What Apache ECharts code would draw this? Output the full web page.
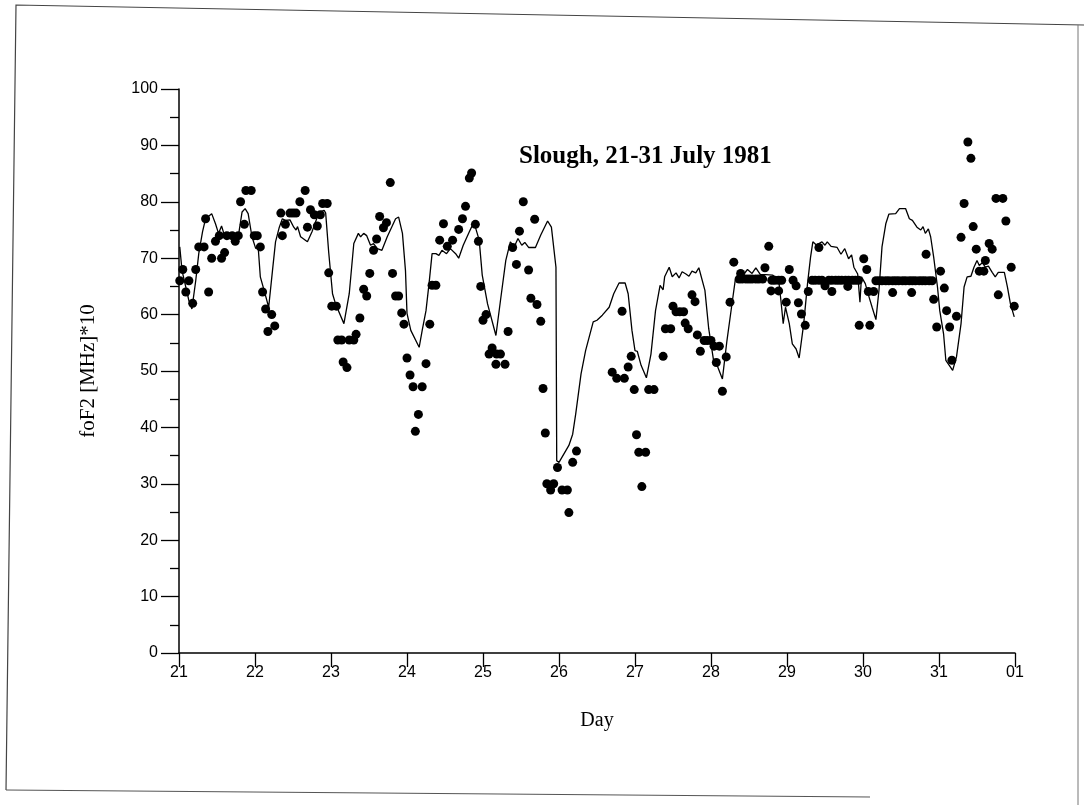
<!DOCTYPE html>
<html>
<head>
<meta charset="utf-8">
<script src="https://cdn.jsdelivr.net/npm/echarts@6/dist/echarts.min.js"></script>
<style>
  html, body { margin: 0; padding: 0; background: #fff; }
  #chart { width: 1084px; height: 805px; }
</style>
</head>
<body>
<div id="chart"></div>
<script>
var obsDay = [
  21.01, 21.05, 21.09, 21.13, 21.18, 21.22, 21.26, 21.33, 21.35, 21.39, 21.43, 21.48, 21.53, 21.56, 21.60, 21.63,
  21.70, 21.74, 21.78, 21.81, 21.86, 21.88, 21.95, 21.99, 22.03, 22.07, 22.10, 22.14, 22.17, 22.22, 22.26, 22.34,
  22.36, 22.40, 22.46, 22.50, 22.54, 22.59, 22.66, 22.69, 22.73, 22.78, 22.82, 22.86, 22.89, 22.95, 22.97, 23.01,
  23.07, 23.09, 23.14, 23.16, 23.21, 23.24, 23.30, 23.33, 23.38, 23.43, 23.47, 23.51, 23.56, 23.60, 23.64, 23.69,
  23.73, 23.78, 23.81, 23.85, 23.89, 23.93, 23.96, 24.00, 24.04, 24.08, 24.11, 24.15, 24.20, 24.25, 24.30, 24.33,
  24.38, 24.43, 24.48, 24.53, 24.60, 24.68, 24.73, 24.77, 24.82, 24.85, 24.90, 24.94, 24.97, 25.00, 25.04, 25.08,
  25.12, 25.17, 25.18, 25.23, 25.29, 25.33, 25.39, 25.44, 25.48, 25.53, 25.60, 25.63, 25.68, 25.71, 25.76, 25.79,
  25.82, 25.84, 25.89, 25.93, 25.98, 26.04, 26.11, 26.13, 26.18, 26.23,
  26.70, 26.76, 26.83, 26.86, 26.91, 26.95, 26.99, 27.02, 27.05, 27.09, 27.14, 27.18, 27.25, 27.37, 27.40, 27.47,
  27.50, 27.54, 27.59, 27.64, 27.66, 27.70, 27.75, 27.79, 27.82, 27.86, 27.91, 27.95, 28.00, 28.04, 28.07, 28.11,
  28.15, 28.20, 28.25, 28.30, 28.37, 28.39, 28.41, 28.46, 28.50, 28.54, 28.59, 28.63, 28.68, 28.71, 28.76, 28.79,
  28.80, 28.84, 28.89, 28.89, 28.93, 28.99, 29.03, 29.08, 29.12, 29.15, 29.19, 29.24, 29.28, 29.33, 29.37, 29.42,
  29.42, 29.46, 29.50, 29.55, 29.59, 29.59, 29.64, 29.68, 29.72, 29.77, 29.80, 29.81, 29.86, 29.90, 29.94, 29.95,
  30.01, 30.05, 30.07, 30.09, 30.14, 30.17, 30.21, 30.25, 30.30, 30.34, 30.39, 30.39, 30.43, 30.47, 30.52, 30.56,
  30.61, 30.64, 30.65, 30.69, 30.74, 30.78, 30.82, 30.83, 30.87, 30.91, 30.93, 30.97, 31.02, 31.07, 31.10, 31.14,
  31.17, 31.23, 31.29, 31.33, 31.38, 31.42, 31.45, 31.49, 31.53, 31.59, 31.61, 31.66, 31.70, 31.75, 31.78, 31.84,
  31.88, 31.95, 31.99
];
var obsVal = [
  66, 68, 64, 66, 62, 68, 72, 72, 77, 64, 70, 73, 74, 70, 71, 74,
  74, 73, 74, 80, 76, 82, 82, 74, 74, 72, 64, 61, 57, 60, 58, 78,
  74, 76, 78, 78, 78, 80, 82, 75.5, 78.6, 77.7, 75.7, 77.7, 79.7, 79.7, 67.4, 61.5,
  61.5, 55.5, 55.5, 51.6, 50.6, 55.5, 55.5, 56.5, 59.4, 64.5, 63.3, 67.3, 71.4, 73.4, 77.4, 75.4,
  76.3, 83.4, 67.3, 63.3, 63.3, 60.3, 58.3, 52.3, 49.3, 47.2, 39.3, 42.3, 47.2, 51.3, 58.3, 65.2,
  65.2, 73.2, 76.1, 72.1, 73.2, 75.1, 77, 79.2, 84.2, 85.1, 76, 73, 65, 59, 60, 53,
  54.1, 51.2, 53, 53, 51.2, 57, 71.9, 68.9, 74.8, 80, 67.9, 62.9, 76.9, 61.8, 58.8, 46.9,
  39, 30, 28.9, 30, 32.9, 28.9, 28.9, 24.9, 33.8, 35.8,
  49.8, 48.7, 60.6, 48.7, 50.7, 52.6, 46.7, 38.7, 35.6, 29.5, 35.6, 46.7, 46.7, 52.6, 57.5, 57.5,
  61.5, 60.5, 60.5, 60.5, 58.5, 57.5, 63.5, 62.3, 56.4, 53.5, 55.4, 55.4, 55.4, 54.4, 51.5, 54.4,
  46.4, 52.5, 62.2, 69.3, 66.3, 67.3, 66.3, 66.3, 66.3, 66.3, 66.3, 66.3, 66.3, 68.3, 72.1, 64.2,
  66.1, 66.1, 66.1, 64.2, 66.1, 62.2, 68, 66.1, 65.1, 62.1, 60.1, 58.1, 64.1, 66.1, 66.1, 66.1,
  71.9, 66.1, 65.1, 66.1, 66.1, 64.1, 66.1, 66.1, 66.1, 66.1, 65, 66.1, 66.1, 66.1, 66.1, 58.1,
  69.9, 68, 64.1, 58.1, 64.1, 66, 66, 66, 66, 66, 66, 63.9, 66, 66, 66, 66,
  66, 63.9, 66, 66, 66, 66, 66, 70.7, 66, 66, 62.7, 57.8, 67.7, 64.7, 60.7, 57.8,
  51.9, 59.7, 73.7, 79.7, 90.6, 87.7, 75.6, 71.6, 67.7, 67.7, 69.6, 72.6, 71.6, 80.6, 63.5, 80.6,
  76.6, 68.4, 61.5
];

// model foF2 (solid line)
var modelDay = [
  21.01, 21.04, 21.13, 21.17, 21.22, 21.26, 21.31, 21.35, 21.43, 21.48, 21.52, 21.56, 21.59, 21.66, 21.75, 21.79,
  21.83, 21.87, 21.91, 21.96, 22.01, 22.04, 22.07, 22.12, 22.18, 22.23, 22.27, 22.32, 22.36, 22.40, 22.46, 22.51,
  22.54, 22.56, 22.60, 22.69, 22.75, 22.82, 22.86, 22.91, 22.93, 22.97, 23.02, 23.06, 23.17, 23.24, 23.30, 23.36,
  23.39, 23.43, 23.47, 23.52, 23.56, 23.61, 23.67, 23.74, 23.85, 23.89, 23.94, 23.98, 24.00, 24.05, 24.16, 24.20,
  24.25, 24.29, 24.33, 24.38, 24.42, 24.46, 24.52, 24.57, 24.64, 24.68, 24.74, 24.82, 24.88, 24.95, 24.99, 25.06,
  25.17, 25.23, 25.30, 25.36, 25.41, 25.46, 25.51, 25.55, 25.60, 25.69, 25.76, 25.85, 25.90, 25.96, 25.97, 26.00,
  26.13, 26.18, 26.22, 26.29, 26.35, 26.45, 26.50, 26.57, 26.66, 26.72, 26.79, 26.87, 26.91, 26.96, 27.00, 27.03,
  27.08, 27.15, 27.21, 27.27, 27.33, 27.37, 27.39, 27.45, 27.49, 27.54, 27.58, 27.62, 27.67, 27.71, 27.75, 27.80,
  27.84, 27.92, 27.97, 28.03, 28.08, 28.15, 28.21, 28.27, 28.32, 28.41, 28.48, 28.54, 28.59, 28.65, 28.72, 28.81,
  28.89, 28.92, 28.95, 28.98, 29.03, 29.07, 29.12, 29.16, 29.22, 29.27, 29.31, 29.34, 29.39, 29.42, 29.46, 29.50,
  29.53, 29.58, 29.66, 29.71, 29.76, 29.81, 29.85, 29.88, 29.93, 29.96, 29.98, 30.03, 30.08, 30.12, 30.17, 30.21,
  30.25, 30.30, 30.34, 30.43, 30.48, 30.56, 30.61, 30.65, 30.71, 30.76, 30.79, 30.82, 30.86, 30.89, 30.93, 30.98,
  31.01, 31.06, 31.09, 31.18, 31.23, 31.29, 31.33, 31.37, 31.42, 31.46, 31.50, 31.53, 31.57, 31.61, 31.65, 31.70,
  31.74, 31.78, 31.86, 31.90, 31.94, 31.99
];
var modelVal = [
  72, 67.8, 62.5, 61, 66, 70.8, 74.7, 77, 77.9, 76.1, 74.4, 75.7, 74.4, 73.5, 73.2, 74.7,
  78.2, 78.8, 77.9, 73.8, 71.7, 72.3, 66.7, 64.3, 61.3, 67.8, 72.9, 75.5, 77, 76.7, 76.8, 75.5,
  75, 75.6, 73.8, 72.9, 74.7, 77.3, 78.2, 78.5, 78, 71, 63.7, 61.9, 58.4, 63.7, 72.6, 74.4,
  73.8, 74.4, 74, 72.3, 72.6, 71.7, 71.4, 73.8, 77, 77.3, 74.4, 67.8, 60.2, 57.2, 54.2, 57.2,
  60.7, 65.5, 70.8, 70.8, 70.5, 71.4, 70.8, 71.7, 70.8, 70, 72.3, 74.7, 76.4, 73.2, 67, 61.9,
  56.3, 62.5, 69.6, 72.9, 72, 73.5, 72.3, 72.8, 71.9, 71.9, 74.1, 76.6, 75.5, 68.4, 34.1, 33.8,
  36.8, 38.8, 42.4, 49.5, 53.6, 58.7, 59, 59.9, 61.3, 63.7, 65.6, 65.6, 63.7, 57.2, 53.6, 53.5,
  51, 48.8, 53, 60.7, 65.2, 64.4, 66.7, 68.4, 66.7, 67.4, 66.5, 67.6, 67.2, 66.8, 67.7, 67.4,
  68.3, 64.3, 57.5, 52.2, 51, 48.6, 55.4, 61.3, 66.2, 66.8, 68, 67.3, 68.3, 67.1, 67.1, 67,
  66.2, 62.5, 58.4, 61.3, 58.4, 54.8, 53.9, 52.3, 58.4, 65.5, 70.2, 72.9, 72.3, 72.6, 72.9, 72.3,
  72.9, 72.1, 71.9, 70.7, 71.7, 69.9, 70.6, 68.4, 67.2, 62.2, 66.7, 65.5, 63.1, 61.3, 59.1, 64.3,
  72, 76.1, 77.8, 77.9, 78.8, 78.8, 77, 76.7, 75.5, 75, 75.6, 74.4, 75.2, 73.8, 70.2, 64.9,
  60.7, 56.6, 51.9, 50.1, 52.5, 58.4, 64.9, 66.7, 66.8, 68.4, 69.6, 68.7, 69.2, 68.4, 68.6, 67.5,
  66.7, 67.5, 67.5, 64.9, 61.9, 59.6
];

var dayTicks = ['21', '22', '23', '24', '25', '26', '27', '28', '29', '30', '31', '01'];

var obsData = obsDay.map(function (d, i) { return [d, obsVal[i]]; });
var modelData = modelDay.map(function (d, i) { return [d, modelVal[i]]; });

var chart = echarts.init(document.getElementById('chart'));
chart.setOption({
  backgroundColor: '#fff',
  animation: false,
  title: {
    text: 'Slough, 21-31 July 1981',
    left: 514,
    top: 139,
    textStyle: {
      fontFamily: 'Liberation Serif',
      fontWeight: 'bold',
      fontSize: 25,
      color: '#000'
    }
  },
  grid: {
    left: 179,
    right: 69,
    top: 89,
    bottom: 152
  },
  xAxis: {
    type: 'value',
    min: 21,
    max: 32,
    interval: 1,
    name: 'Day',
    nameLocation: 'middle',
    nameGap: 58,
    nameTextStyle: { fontFamily: 'Liberation Serif', fontSize: 20, color: '#000' },
    axisLine: { lineStyle: { color: '#000', width: 1.5 } },
    axisTick: { length: 14, lineStyle: { color: '#000', width: 1.3 } },
    axisLabel: {
      margin: 12,
      fontFamily: 'Liberation Sans',
      fontSize: 16,
      color: '#000',
      formatter: function (v) { return dayTicks[Math.round(v) - 21]; }
    },
    splitLine: { show: false }
  },
  yAxis: {
    type: 'value',
    min: 0,
    max: 100,
    interval: 10,
    name: 'foF2 [MHz]*10',
    nameLocation: 'middle',
    nameRotate: 90,
    nameGap: 80,
    nameTextStyle: { fontFamily: 'Liberation Serif', fontSize: 21, color: '#000' },
    axisLine: { show: true, lineStyle: { color: '#000', width: 1.5 } },
    axisTick: { show: true, length: 18, lineStyle: { color: '#000', width: 1.3 } },
    minorTick: { show: true, splitNumber: 2, length: 9, lineStyle: { color: '#000', width: 1.3 } },
    axisLabel: {
      margin: 21,
      fontFamily: 'Liberation Sans',
      fontSize: 16,
      color: '#000'
    },
    splitLine: { show: false }
  },
  graphic: [{
    type: 'polyline',
    shape: { points: [[6, 790], [16, 5], [1084, 25]] },
    style: { stroke: '#444', lineWidth: 1.2, fill: null }
  }, {
    type: 'polyline',
    shape: { points: [[6, 790], [870, 797]] },
    style: { stroke: '#555', lineWidth: 1.2, fill: null }
  }, {
    type: 'line',
    shape: { x1: 1078, y1: 25, x2: 1078, y2: 805 },
    style: { stroke: '#777', lineWidth: 1 }
  }],
  series: [{
    type: 'line',
    data: modelData,
    showSymbol: false,
    lineStyle: { color: '#000', width: 1.3 },
    z: 2
  }, {
    type: 'scatter',
    data: obsData,
    symbol: 'circle',
    symbolSize: 9,
    itemStyle: { color: '#000', opacity: 1 },
    z: 3
  }]
});
</script>
</body>
</html>
